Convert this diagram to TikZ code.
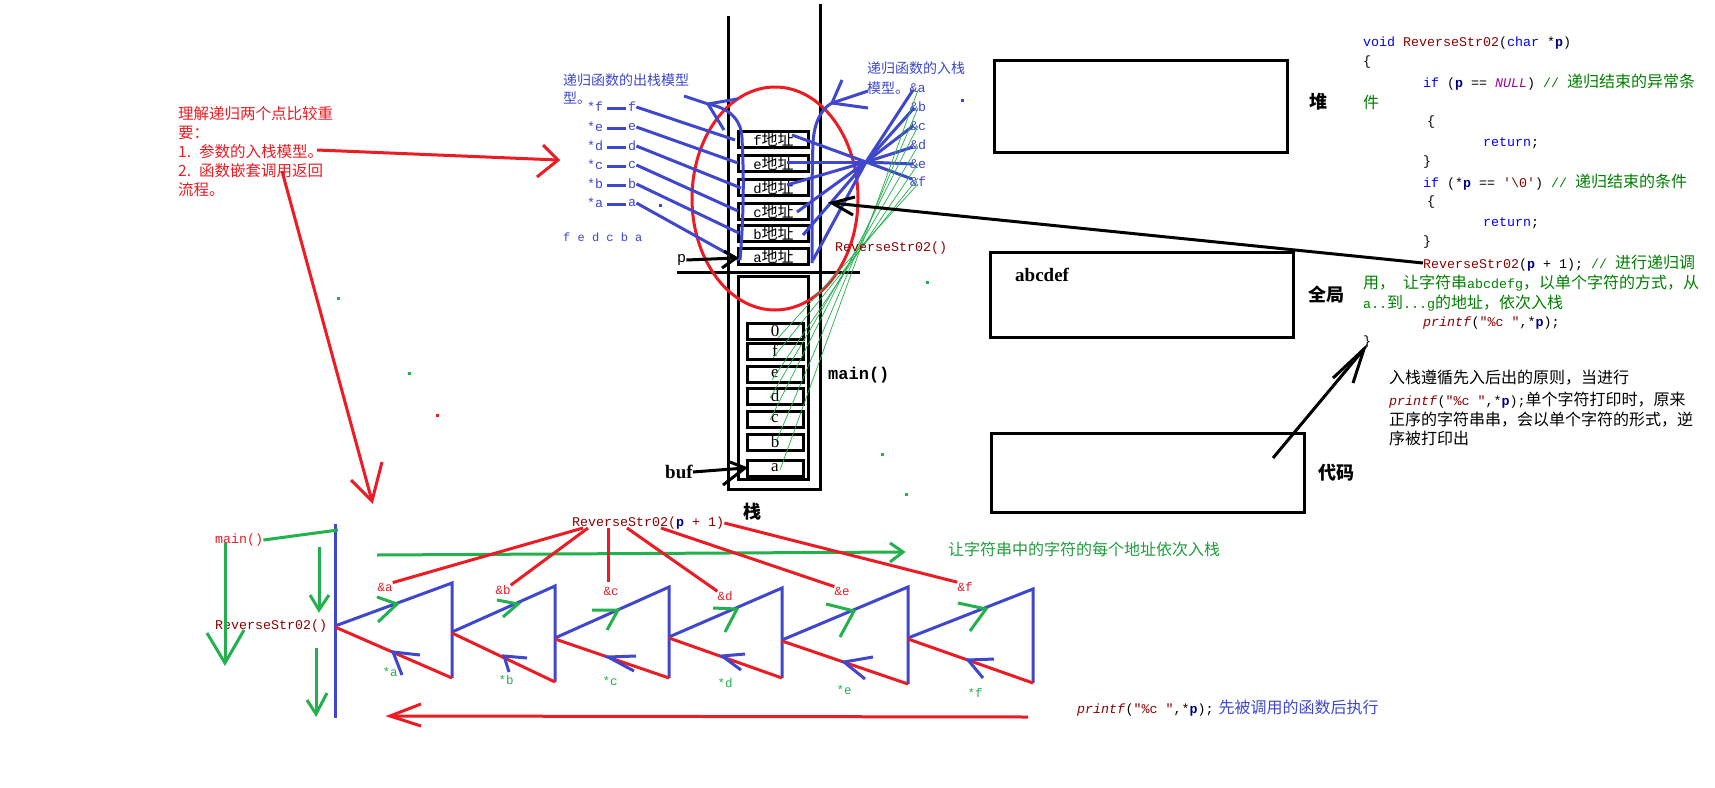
\documentclass[tikz,border=0pt]{standalone}
\usepackage{fontspec}
\setmainfont{Liberation Serif}
\setmonofont{Liberation Mono}
\newfontfamily\cjk{Noto Sans CJK SC}
\newcommand\fsz[1]{\fontsize{#1}{#1}\selectfont}
\newcommand\cc[1]{{\cjk\fsz{16}#1}}
\definecolor{pred}{HTML}{ED1C24}
\definecolor{pblue}{HTML}{3F48CC}
\definecolor{pgreen}{HTML}{22B14C}
\definecolor{lgreen}{HTML}{1E9E3C}
\definecolor{dred}{HTML}{8B0000}
\definecolor{kwblue}{HTML}{0000FF}
\definecolor{cgreen}{HTML}{008000}
\definecolor{navy}{HTML}{000080}
\definecolor{purp}{HTML}{A000A0}
\newcommand\pp{\textcolor{navy}{\textbf{p}}}
\tikzset{
  bl/.style={draw=pblue, line width=3pt},
  rl/.style={draw=pred, line width=3pt},
  gl/.style={draw=pgreen, line width=3pt},
  kl/.style={draw=black, line width=3pt},
  tg/.style={draw=pgreen, line width=0.7pt},
  txt/.style={inner sep=0pt, anchor=west},
  ct/.style={txt, font={\ttfamily\fsz{13.33}}},
  cj/.style={txt, font={\cjk\fsz{16}}},
  abox/.style={draw, line width=3pt, minimum width=70pt, minimum height=16pt, inner sep=0pt},
  vbox/.style={draw, line width=3pt, minimum width=56pt, minimum height=16pt, inner sep=0pt, font={\rmfamily\fsz{17}}},
  membox/.style={draw, line width=3pt, inner sep=0pt},
  dot/.style={inner sep=0pt, minimum size=3pt, fill=#1}
}
\begin{document}
\begin{tikzpicture}[x=1pt,y=-1pt]
\fill[white] (0,0) rectangle (1715,787);
\useasboundingbox (0,0) rectangle (1715,787);

% ---------- stack ----------
\draw[kl] (728,16) -- (728,489) -- (820,489) -- (820,4);
\draw[kl] (677,272) -- (860,272);
\node[membox, minimum width=70pt, minimum height=203pt] (mainbox) at (773.5,378) {};
\foreach \n/\y/\t in {m0/331/0, mf/351/f, me/374/e, md/396/d, mc/419/c, mb/442/b, ma/468/a}
  \node[vbox] (\n) at (775,\y) {\t};
\foreach \n/\y/\t in {af/139/f, ae/163/e, ad/187/d, ac/211/c, ab/233/b, aa/256/a}
  \node[abox] (\n) at (773.5,\y) {\ttfamily\fsz{14}\t\cjk\fsz{16}地址};

% red ellipse
\draw[draw=pred, line width=3pt] (775,198.5) ellipse [x radius=83pt, y radius=111.5pt];

% ---------- left out-stack labels ----------
\node[txt, text=pblue, font={\cjk\fsz{14}}] (outlbl) at (563,80) {递归函数的出栈模型};
\node[txt, text=pblue, font={\cjk\fsz{14}}] (outlbl2) at (563,98) {型。};
\foreach \n/\y/\t in {f/107/f, e/127/e, d/146/d, c/165/c, b/184/b, a/203/a} {
  \node[ct, text=pblue] (s\n) at (587,\y) {*\t};
  \node[ct, text=pblue] (l\n) at (628,\y) {\t};
  \draw[bl] (607,\y+1) -- (626,\y+1);
}
\node[ct, text=pblue, font={\ttfamily\fsz{12}}] (fedcba) at (563,237) {f e d c b a};
\draw[bl] (lf.east) -- (735,140);
\draw[bl] (le.east) -- (738,163);
\draw[bl] (ld.east) -- (741,188);
\draw[bl] (lc.east) -- (738,211);
\draw[bl] (lb.east) -- (739,233);
\draw[bl] (la.east) -- (739,260);
% out-stack curve arrow
\coordinate (ov) at (708,104);
\draw[bl] (740,260) .. controls (745,200) and (743,160) .. (742,138) .. controls (741,118) and (728,108) .. (ov);
\draw[bl] (684,96) -- (ov) -- (737,99);
\draw[bl] (ov) -- (724,130);

% ---------- right in-stack labels ----------
\node[txt, text=pblue, font={\cjk\fsz{14}}] (inlbl) at (867,68) {递归函数的入栈};
\node[txt, text=pblue, font={\cjk\fsz{14}}] (inlbl2) at (867,88) {模型。};
\node[ct, text=pblue] (ra) at (inlbl2.east) {\&a};
\foreach \n/\y in {b/107, c/126, d/145, e/164, f/182}
  \node[ct, text=pblue] (r\n) at (910,\y) {\&\n};
% in-stack curve arrow
\coordinate (iv) at (832,103);
\draw[bl] (812,263) .. controls (812,200) and (812,165) .. (813,143) .. controls (814,122) and (822,108) .. (iv);
\draw[bl] (842,80) -- (iv) -- (868,108);
\draw[bl] (iv) -- (868,91);
% fan through hub
\coordinate (hub) at (866,162);
\foreach \p in {(792,135),(787,162),(787,185),(797,212),(803,235),(813,260),(913,90),(914,108),(913,126),(913,147),(913,164),(912,179)}
  \draw[bl] (hub) -- \p;

% green thin lines from & labels to values
\draw[tg] (918,90) -- (780,470);
\draw[tg] (918,108) -- (776,442);
\draw[tg] (918,126) -- (770,420);
\draw[tg] (918,146) -- (770,398);
\draw[tg] (918,164) -- (772,380);
\draw[tg] (918,178) -- (773,358);
\draw[tg] (918,184) -- (778,338);

% stack texts
\node[ct, text=dred] (rsfn) at (835,248) {ReverseStr02()};
\node[txt, font={\ttfamily\fsz{15}}] (plbl) at (677,260) {p};
\draw[kl] (plbl.east) -- (736,258);
\draw[kl] (724,251) -- (736,258) -- (722,268);
\node[txt, font={\ttfamily\bfseries\fsz{17}}] (mainlbl) at (828,375) {main()};
\node[txt, font={\rmfamily\bfseries\fsz{19}}] (buf) at (665,472) {buf};
\draw[kl] (buf.east) -- (745,468);
\draw[kl] (730,462) -- (745,468) -- (723,485);
\node[font={\cjk\bfseries\fsz{18}}, inner sep=0pt] (stk) at (752,512) {栈};

% ---------- memory areas ----------
\node[membox, minimum width=293pt, minimum height=92pt] (heap) at (1140.5,106) {};
\node[font={\cjk\bfseries\fsz{18}}, inner sep=0pt] (heaplbl) at (1318,102) {堆};
\node[membox, minimum width=303pt, minimum height=85pt] (glob) at (1141.5,294.5) {};
\node[txt, font={\rmfamily\bfseries\fsz{19}}] (abc) at (1015,275) {abcdef};
\node[txt, font={\cjk\bfseries\fsz{18}}] (globlbl) at (1308,295) {全局};
\node[membox, minimum width=313pt, minimum height=79pt] (codebox) at (1147.5,472.5) {};
\node[txt, font={\cjk\bfseries\fsz{18}}] (codelbl) at (1318,473) {代码};

% ---------- code ----------
\node[ct] (c1) at (1363,43) {\textcolor{kwblue}{void} \textcolor{dred}{ReverseStr02}(\textcolor{kwblue}{char} *\pp)};
\node[ct] (c2) at (1363,62) {\{};
\node[ct] (c3) at (1423,82) {\textcolor{kwblue}{if} (\pp{} == \textcolor{purp}{\textit{NULL}}) \textcolor{cgreen}{// \cc{递归结束的异常条}}};
\node[ct] (c4) at (1363,102) {\textcolor{cgreen}{\cc{件}}};
\node[ct] (c5) at (1427,122) {\{};
\node[ct] (c6) at (1483,143) {\textcolor{kwblue}{return};};
\node[ct] (c7) at (1423,162) {\}};
\node[ct] (c8) at (1423,182) {\textcolor{kwblue}{if} (*\pp{} == \textcolor{dred}{'\textbackslash0'}) \textcolor{cgreen}{// \cc{递归结束的条件}}};
\node[ct] (c9) at (1427,202) {\{};
\node[ct] (c10) at (1483,223) {\textcolor{kwblue}{return};};
\node[ct] (c11) at (1423,242) {\}};
\node[ct] (c12) at (1423,263) {\textcolor{dred}{ReverseStr02}(\pp{} + 1); \textcolor{cgreen}{// \cc{进行递归调}}};
\node[ct] (c13) at (1363,283) {\textcolor{cgreen}{\cc{用，}\ \cc{让字符串}abcdefg\cc{，以单个字符的方式，从}}};
\node[ct] (c14) at (1363,303) {\textcolor{cgreen}{a..\cc{到}...g\cc{的地址，依次入栈}}};
\node[ct] (c15) at (1423,323) {\textcolor{dred}{\textit{printf}}(\textcolor{dred}{"\%c "},*\pp);};
\node[ct] (c16) at (1363,342) {\}};

% explanation
\node[cj] (e1) at (1389,378) {入栈遵循先入后出的原则，当进行};
\node[cj] (e2) at (1389,400) {{\ttfamily\fsz{13.33}\textcolor{dred}{\textit{printf}}(\textcolor{dred}{"\%c "},*\pp);}单个字符打印时，原来};
\node[cj] (e3) at (1389,420) {正序的字符串串，会以单个字符的形式，逆};
\node[cj] (e4) at (1389,438) {序被打印出};

% black arrows
\draw[kl] (c12.west) -- (832,203);
\draw[kl] (855,197) -- (832,203) -- (853,215);
\coordinate (ct1) at (1273,458);
\coordinate (ct2) at (1364,349);
\draw[kl] (ct1) -- (ct2);
\draw[kl] (1353,383) -- (ct2) -- (1333,378);

% ---------- left red notes ----------
\node[txt, text=pred, font={\cjk\fsz{15.5}}] (n1) at (178,114) {理解递归两个点比较重};
\node[txt, text=pred, font={\cjk\fsz{15.5}}] (n2) at (178,133) {要：};
\node[txt, text=pred, font={\cjk\fsz{15.5}}] (n3) at (178,152) {1.\hspace{8pt}参数的入栈模型。};
\node[txt, text=pred, font={\cjk\fsz{15.5}}] (n4) at (178,171) {2.\hspace{8pt}函数嵌套调用返回};
\node[txt, text=pred, font={\cjk\fsz{15.5}}] (n5) at (178,190) {流程。};
\coordinate (r1a) at (317,150);
\coordinate (r1b) at (558,160);
\draw[rl] (r1a) -- (r1b);
\draw[rl] (543,145) -- (r1b) -- (537,177);
\coordinate (r2a) at (282,171);
\coordinate (r2b) at (372,501);
\draw[rl] (r2a) -- (r2b);
\draw[rl] (351,480) -- (r2b) -- (382,462);

% ---------- bottom recursion chain ----------
\node[ct, text=pred] (bmain) at (215,540) {main()};
\node[ct, text=dred] (brs) at (215,626) {ReverseStr02()};
\draw[bl] (335,524) -- (335,718);
\draw[gl] (bmain.east) -- (338,530);
\draw[gl] (225,543) -- (225,663);
\draw[gl] (207,633) -- (225,663) -- (244,630);
\draw[gl] (319,547) -- (319,610);
\draw[gl] (310,595) -- (319,610) -- (329,595);
\draw[gl] (316,648) -- (316,714);
\draw[gl] (307,700) -- (316,714) -- (327,693);

\node[ct, text=dred] (rsp) at (572,523) {ReverseStr02(\pp{} + 1)};
\draw[gl] (377,555) -- (903,552);
\draw[gl] (890,543) -- (903,552) -- (890,562);
\node[txt, text=lgreen, font={\cjk\fsz{16}}] (glbl) at (948,549) {让字符串中的字符的每个地址依次入栈};

\foreach \n/\x/\y in {a/385/587, b/503/590, c/611/591, d/725/596, e/842/591, f/965/587}
  \node[ct, text=pred, font={\ttfamily\fsz{12.5}}, anchor=center] (amp\n) at (\x,\y) {\&\n};
\foreach \n/\x/\y in {a/390/672, b/506/680, c/610/681, d/725/683, e/844/690, f/975/693}
  \node[ct, text=pgreen, font={\ttfamily\fsz{12.5}}, anchor=center] (st\n) at (\x,\y) {*\n};

\draw[rl] (583,528) -- (ampa.north east);
\draw[rl] (588,528) -- (ampb.north east);
\draw[rl] (608,528) -- (608,582);
\draw[rl] (627,528) -- (ampd.north west);
\draw[rl] (661,528) -- (ampe.north west);
\draw[rl] (rsp.east) -- (ampf.north west);

% triangles
\foreach \lx/\ly/\tx/\ty/\by in {335/626/452/583/678, 452/632/555/586/682, 555/638/669/587/678, 669/637/782/588/678, 782/640/908/587/684, 908/638/1033/589/683} {
  \draw[bl] (\lx,\ly) -- (\tx,\ty) -- (\tx,\by);
  \draw[rl] (\tx,\by) -- (\lx,\ly+1);
}
% green arrowheads on blue (calls)
\foreach \tx/\ty/\ax/\ay/\bx/\by in {397/604/377/597/378/622, 518/604/497/600/503/617, 618/610/592/610/607/630, 737/609/713/608/725/632, 854/611/826/604/840/637, 986/609/958/603/970/631}
  \draw[gl] (\ax,\ay) -- (\tx,\ty) -- (\bx,\by);
% blue arrowheads on red (returns)
\foreach \tx/\ty/\ax/\ay/\bx/\by in {393/652/420/655/402/675, 504/656/527/658/509/672, 608/657/636/656/634/671, 722/656/745/654/741/670, 844/662/873/657/865/679, 968/660/994/659/983/678}
  \draw[bl] (\ax,\ay) -- (\tx,\ty) -- (\bx,\by);

% bottom return arrow
\coordinate (ba) at (1028,717);
\coordinate (bb) at (390,716);
\draw[rl] (ba) -- (bb);
\draw[rl] (421,704) -- (bb) -- (421,726);
\node[ct] (btxt) at (1077,708) {\textcolor{dred}{\textit{printf}}(\textcolor{dred}{"\%c "},*\pp);\hspace{5pt}\textcolor{pblue}{\cjk\fsz{16}先被调用的函数后执行}};

% stray dots
\node[dot=pgreen] (d1) at (338,298) {};
\node[dot=pgreen] (d2) at (409,373) {};
\node[dot=pred] (d3) at (437,415) {};
\node[dot=pblue] (d4) at (962,100) {};
\node[dot=pblue] (d5) at (660,205) {};
\node[dot=pgreen] (d6) at (927,282) {};
\node[dot=pgreen] (d7) at (882,454) {};
\node[dot=pgreen] (d8) at (906,494) {};
\end{tikzpicture}
\end{document}
